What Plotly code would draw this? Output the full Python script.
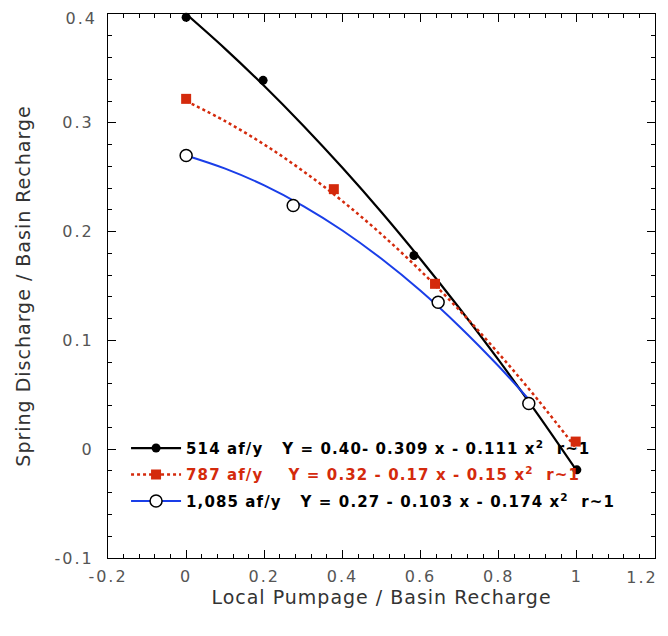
import plotly.graph_objects as go

# measured points: local pumpage / basin recharge (x), spring discharge / basin recharge (y)
x_514 = [0.0, 0.197, 0.583, 1.0]
y_514 = [0.397, 0.339, 0.178, -0.019]
x_787 = [0.0, 0.378, 0.637, 0.997]
y_787 = [0.322, 0.239, 0.152, 0.007]
x_1085 = [0.0, 0.274, 0.645, 0.877]
y_1085 = [0.270, 0.224, 0.135, 0.042]

# fitted curves
fit_x = [0.0, 0.1, 0.2, 0.3, 0.4, 0.5, 0.6, 0.7, 0.8, 0.9, 1.0]
fit_514 = [0.400, 0.368, 0.3338, 0.2973, 0.2586, 0.2178, 0.1746, 0.1293, 0.0818, 0.032, -0.020]
fit_787 = [0.320, 0.3015, 0.280, 0.2555, 0.228, 0.1975, 0.164, 0.1275, 0.088, 0.0455, 0.000]
fit_1085_x = [0.0, 0.1, 0.2, 0.3, 0.4, 0.5, 0.6, 0.7, 0.8, 0.88]
fit_1085 = [0.270, 0.2579, 0.2425, 0.2235, 0.2010, 0.1750, 0.1456, 0.1126, 0.0762, 0.0445]

names = [
    "514 af/y   Y = 0.40- 0.309 x - 0.111 x<sup>2</sup>  r~1",
    "787 af/y    Y = 0.32 - 0.17 x - 0.15 x<sup>2</sup>  r~1",
    "1,085 af/y   Y = 0.27 - 0.103 x - 0.174 x<sup>2</sup>  r~1",
]
name_colors = ["black", "#d42a0c", "black"]

xticks = [-0.2, 0, 0.2, 0.4, 0.6, 0.8, 1, 1.2]
xlabels = ["-0.2", "0", "0.2", "0.4", "0.6", "0.8", "1", "1.2"]
yticks = [-0.1, 0, 0.1, 0.2, 0.3, 0.4]
ylabels = ["-0.1", "0", "0.1", "0.2", "0.3", "0.4"]


def spaced(t, px, color=None):
    st = "letter-spacing:%spx" % px
    if color:
        st = "color:%s;" % color + st
    return "<span style='%s'>%s</span>" % (st, t)


styles = [
    dict(line=dict(color="black", width=2.2),
         marker=dict(symbol="circle", size=9, color="black")),
    dict(line=dict(color="#d42a0c", width=2.5, dash="dot"),
         marker=dict(symbol="square", size=10, color="#d42a0c")),
    dict(line=dict(color="#1a3ee8", width=2),
         marker=dict(symbol="circle", size=12, color="white",
                     line=dict(color="black", width=1.5))),
]
fits = [(fit_x, fit_514), (fit_x, fit_787), (fit_1085_x, fit_1085)]
pts = [(x_514, y_514), (x_787, y_787), (x_1085, y_1085)]

fig = go.Figure()
for i in range(3):
    fig.add_trace(go.Scatter(x=fits[i][0], y=fits[i][1], mode="lines", line=styles[i]["line"],
                             line_shape="spline", showlegend=False, hoverinfo="skip"))
for i in range(3):
    fig.add_trace(go.Scatter(x=pts[i][0], y=pts[i][1], mode="markers", marker=styles[i]["marker"],
                             showlegend=False, cliponaxis=False))
# legend entries (line + marker sample)
for i in range(3):
    fig.add_trace(go.Scatter(x=[None], y=[None], mode="lines+markers",
                             name=spaced(names[i], 1.1, name_colors[i]),
                             legendgroup="g%d" % i, **styles[i]))
# empty trace so the overlay axes get drawn
fig.add_trace(go.Scatter(x=[None], y=[None], xaxis="x2", yaxis="y2", mode="markers",
                         showlegend=False, hoverinfo="skip"))

tickfont = dict(size=16, color="#555")
axis_common = dict(showgrid=False, zeroline=False, showline=True, linecolor="black",
                   linewidth=1, mirror="ticks", ticks="inside", ticklen=8,
                   tickcolor="black", tickfont=tickfont,
                   ticklabeloverflow="allow", automargin=False,
                   title_font=dict(size=19, color="#333"))

# the end labels (1.2 and 0.4) sit on overlay axes so they can be nudged inside the page
fig.update_layout(
    xaxis=dict(range=[-0.2, 1.2], tickvals=xticks,
               ticktext=[spaced(t, 2) for t in xlabels[:-1]] + [""], ticklabelstandoff=4,
               minor=dict(dtick=0.04, ticks="inside", ticklen=4, tickcolor="black"),
               title_text=spaced("Local Pumpage / Basin Recharge", 1), title_standoff=0,
               **axis_common),
    yaxis=dict(range=[-0.1, 0.4], tickvals=yticks,
               ticktext=[spaced(t, 2) for t in ylabels[:-1]] + [""], ticklabelstandoff=10,
               minor=dict(dtick=0.02, ticks="inside", ticklen=4, tickcolor="black"),
               title_text=spaced("Spring Discharge / Basin Recharge", 1), title_standoff=18,
               **axis_common),
    xaxis2=dict(overlaying="x", range=[-0.2, 1.2], side="bottom", showgrid=False,
                zeroline=False, showline=False, ticks="", tickvals=xticks[-1:],
                ticktext=[spaced(xlabels[-1], 2)], tickfont=tickfont, ticklabelstandoff=8,
                ticklabelshift=-13, ticklabeloverflow="allow", automargin=False),
    yaxis2=dict(overlaying="y", range=[-0.1, 0.4], side="left", showgrid=False,
                zeroline=False, showline=False, ticks="", tickvals=yticks[-1:],
                ticktext=[spaced(ylabels[-1], 2)], tickfont=tickfont, ticklabelstandoff=10,
                ticklabelshift=4, ticklabeloverflow="allow", automargin=False),
    width=660, height=628,
    margin=dict(l=100, r=13, t=6, b=78),
    plot_bgcolor="white", paper_bgcolor="white",
    font=dict(family="DejaVu Sans", color="#333"),
    legend=dict(x=0.033, y=0.232, xanchor="left", yanchor="top", traceorder="grouped",
                bgcolor="rgba(0,0,0,0)", itemwidth=50, tracegroupgap=4,
                font=dict(family="DejaVu Sans", size=15, color="black", weight="bold")),
)

fig.write_html("out.html")
